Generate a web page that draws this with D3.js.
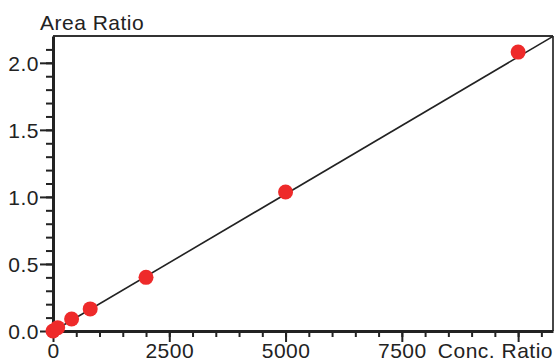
<!DOCTYPE html>
<html>
<head>
<meta charset="utf-8">
<script src="https://cdn.jsdelivr.net/npm/d3@7"></script>
<style>
  body { margin: 0; background: #fff; }
  svg text { font-family: "Liberation Sans", Arial, sans-serif; fill: #222; letter-spacing: 0.5px; }
</style>
</head>
<body>
<svg id="chart" width="557" height="361"></svg>
<script>
// calibration points
const concRatio = [0, 100, 400, 800, 2000, 5000, 10000];
const areaRatio = [0.0, 0.025, 0.09, 0.165, 0.40, 1.037, 2.08];

// fitted line
const fitSlope = 0.0002046;
const fitIntercept = -0.002;

const xMajor = [0, 2500, 5000, 7500, 10000];
const xLabels = ["0", "2500", "5000", "7500", ""];
const yMajor = [0, 0.5, 1.0, 1.5, 2.0];
const yLabels = ["0.0", "0.5", "1.0", "1.5", "2.0"];

const svg = d3.select("#chart");
const ink = "#222";
const fs = 21;

const x = d3.scaleLinear().domain([0, 10750]).range([53, 553]);
const y = d3.scaleLinear().domain([0, 2.2]).range([331, 36]);

// frame top/right
svg.append("line")
  .attr("x1", x(0)).attr("x2", x(10750))
  .attr("y1", y(2.2)).attr("y2", y(2.2))
  .attr("stroke", "#333").attr("stroke-width", 1.8);
svg.append("line")
  .attr("x1", x(10750)).attr("x2", x(10750))
  .attr("y1", y(2.2)).attr("y2", y(0))
  .attr("stroke", "#333").attr("stroke-width", 1.8);

// minor ticks
const xMinor = d3.range(0, 10751, 500);
const yMinor = d3.range(0, 22).map(i => i / 10);

svg.append("g")
  .attr("transform", `translate(0,${y(0)})`)
  .call(d3.axisBottom(x).tickValues(xMinor).tickSize(6).tickFormat(""))
  .call(g => g.select(".domain").remove())
  .call(g => g.selectAll("line").attr("stroke", ink).attr("stroke-width", 2));

svg.append("g")
  .attr("transform", `translate(${x(0)},0)`)
  .call(d3.axisLeft(y).tickValues(yMinor).tickSize(7).tickFormat(""))
  .call(g => g.select(".domain").remove())
  .call(g => g.selectAll("line").attr("stroke", ink).attr("stroke-width", 2));

// major ticks + labels
const xAxis = svg.append("g")
  .attr("transform", `translate(0,${y(0)})`)
  .call(d3.axisBottom(x).tickValues(xMajor).tickSize(11).tickSizeOuter(0)
    .tickFormat((d, i) => xLabels[i]));
xAxis.select(".domain").attr("stroke", ink).attr("stroke-width", 3);
xAxis.selectAll("line").attr("stroke", ink).attr("stroke-width", 2);
xAxis.selectAll("text").attr("font-size", fs).attr("fill", ink).attr("y", 12);

const yAxis = svg.append("g")
  .attr("transform", `translate(${x(0)},0)`)
  .call(d3.axisLeft(y).tickValues(yMajor).tickSize(13).tickSizeOuter(0)
    .tickFormat((d, i) => yLabels[i]));
yAxis.select(".domain").attr("stroke", ink).attr("stroke-width", 3);
yAxis.selectAll("line").attr("stroke", ink).attr("stroke-width", 2);
yAxis.selectAll("text").attr("font-size", fs).attr("fill", ink).attr("x", -14).attr("dy", "0.36em");

// axis titles
svg.append("text")
  .attr("x", 40).attr("y", 30)
  .attr("font-size", fs)
  .text("Area Ratio");

svg.append("rect")
  .attr("x", 442).attr("y", 344).attr("width", 115).attr("height", 17)
  .attr("fill", "#fff");
svg.append("text")
  .attr("x", 553).attr("y", 358)
  .attr("text-anchor", "end")
  .attr("font-size", fs)
  .text("Conc. Ratio");

// fit line
const fitLine = d3.line()
  .x(d => x(d))
  .y(d => y(fitIntercept + fitSlope * d));
svg.append("path")
  .datum([0, 10750])
  .attr("d", fitLine)
  .attr("fill", "none")
  .attr("stroke", ink)
  .attr("stroke-width", 1.6);

// points
svg.append("g")
  .selectAll("circle")
  .data(concRatio)
  .join("circle")
  .attr("cx", d => x(d))
  .attr("cy", (d, i) => y(areaRatio[i]))
  .attr("r", 7.5)
  .attr("fill", "#ee2a2a");
</script>
</body>
</html>
